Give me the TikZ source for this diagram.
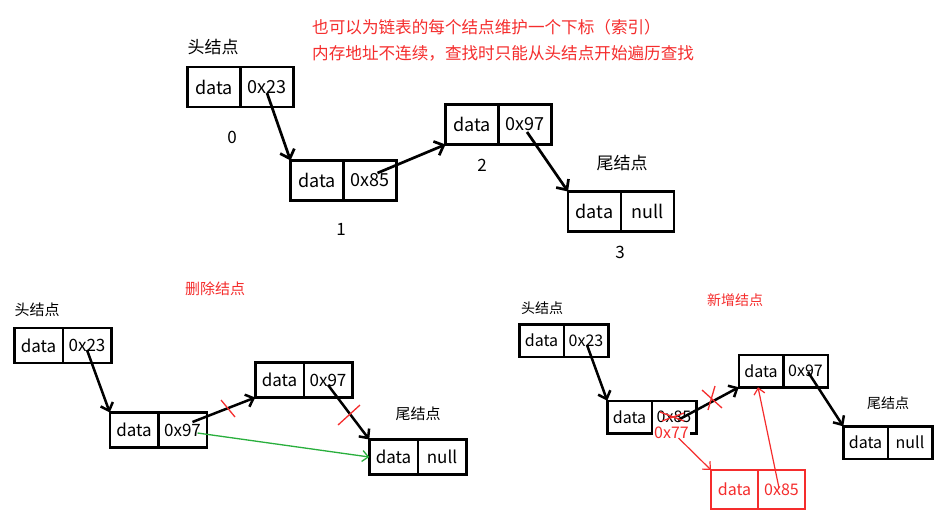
\documentclass[tikz,border=0pt]{standalone}
\usepackage{fontspec}
\setmainfont{Noto Sans CJK SC}
\usetikzlibrary{arrows.meta,calc}
\definecolor{myred}{RGB}{245,45,45}
\definecolor{mygreen}{RGB}{40,175,60}
\tikzset{
  cellbase/.style={draw, outer sep=0pt, inner sep=0pt, anchor=center},
  tcell/.style={cellbase, line width=2.8pt, minimum width=53pt, minimum height=40pt, font=\fontsize{18}{20}\selectfont},
  lcell/.style={cellbase, line width=2.5pt, minimum width=48.5pt, minimum height=35pt, font=\fontsize{17}{19}\selectfont},
  rcell/.style={cellbase, line width=2.5pt, minimum width=44.5pt, minimum height=32.5pt, font=\fontsize{16}{18}\selectfont},
  newcell/.style={cellbase, draw=myred, text=myred, line width=1.3pt, minimum width=47pt, minimum height=39pt, font=\fontsize{16}{18}\selectfont},
  lbl/.style={font=\fontsize{16}{18}\selectfont, inner sep=0pt},
  smalllbl/.style={font=\fontsize{15}{17}\selectfont, inner sep=0pt},
  redlbl/.style={font=\fontsize{15}{17}\selectfont, inner sep=0pt, text=myred},
  idx/.style={font=\fontsize{17}{19}\selectfont, inner sep=0pt},
  link/.style={line width=2.7pt, -{Straight Barb[length=8pt,width=15pt,line width=2.7pt]}},
  slink/.style={line width=2.5pt, -{Straight Barb[length=7pt,width=13pt,line width=2.5pt]}},
  redlink/.style={draw=myred, line width=1.2pt, -{Straight Barb[length=6pt,width=11pt,line width=1.2pt]}},
  greenlink/.style={draw=mygreen, line width=1.3pt, -{Straight Barb[length=6pt,width=11pt,line width=1.3pt]}},
  cross/.style={draw=myred, line width=1.3pt}
}
\begin{document}
\begin{tikzpicture}[x=1pt,y=-1pt]
\useasboundingbox[fill=white] (0,0) rectangle (949,528);

% ---------------- top ----------------
\node[anchor=west, inner sep=0pt, text=myred, font=\fontsize{16.6}{19}\selectfont] (note1) at (312,27) {也可以为链表的每个结点维护一个下标（索引）};
\node[anchor=west, inner sep=0pt, text=myred, font=\fontsize{16.6}{19}\selectfont] (note2) at (312,53) {内存地址不连续，查找时只能从头结点开始遍历查找};

\node[lbl, font=\fontsize{17}{19}\selectfont] (thead) at (213,47) {头结点};
\node[lbl, font=\fontsize{17}{19}\selectfont] (ttail) at (622,163) {尾结点};

\node[tcell] (t0d) at (214,87) {data};
\node[tcell, anchor=west] (t0p) at (t0d.east) {0x23};
\node[tcell] (t1d) at (317,180.5) {data};
\node[tcell, anchor=west] (t1p) at (t1d.east) {0x85};
\node[tcell] (t2d) at (472,124.5) {data};
\node[tcell, anchor=west] (t2p) at (t2d.east) {0x97};
\node[tcell] (t3d) at (594.5,211.5) {data};
\node[tcell, anchor=west] (t3p) at (t3d.east) {null};

\node[idx] (i0) at (232,137) {0};
\node[idx] (i1) at (341,229) {1};
\node[idx] (i2) at (482,165) {2};
\node[idx] (i3) at (620,252) {3};

\draw[link] ($(t0p.center)+(0,6)$) -- (t1d.north west);
\draw[link] ($(t1p.center)+(7.5,-7.5)$) -- (t2d.south west);
\draw[link] ($(t2p.center)+(2,7.5)$) -- (t3d.north west);

% ---------------- bottom left: delete ----------------
\node[redlbl] (deltitle) at (215,289) {删除结点};
\node[smalllbl] (lhead) at (37,310) {头结点};
\node[smalllbl] (ltail) at (418,414) {尾结点};

\node[lcell] (l0d) at (38.5,345.5) {data};
\node[lcell, anchor=west] (l0p) at (l0d.east) {0x23};
\node[lcell] (l1d) at (134,430) {\raisebox{1pt}{data}};
\node[lcell, anchor=west] (l1p) at (l1d.east) {\raisebox{-3pt}{0x97}};
\node[lcell] (l2d) at (279.5,380) {data};
\node[lcell, anchor=west] (l2p) at (l2d.east) {0x97};
\node[lcell] (l3d) at (393.5,457) {data};
\node[lcell, anchor=west] (l3p) at (l3d.east) {null};

\draw[slink] ($(l0p.center)+(0,4.5)$) -- (l1d.north west);
\draw[slink] ($(l1p.center)+(10,-8)$) -- (l2d.south west);
\draw[slink] ($(l2p.center)+(0,5)$) -- (l3d.north west);
\draw[greenlink] ($(l1p.center)+(15,3)$) -- (l3d.west);

\coordinate (lx1a) at (221,400);
\coordinate (lx1b) at (235,417);
\coordinate (lx2a) at (338,425);
\coordinate (lx2b) at (360,405);
\draw[cross] (lx1a) -- (lx1b);
\draw[cross] (lx2a) -- (lx2b);

% ---------------- bottom right: insert ----------------
\node[redlbl, font=\fontsize{14}{16}\selectfont] (addtitle) at (735,300) {新增结点};
\node[smalllbl, font=\fontsize{14}{16}\selectfont] (rhead) at (542,308) {头结点};
\node[smalllbl, font=\fontsize{14}{16}\selectfont] (rtail) at (888,403) {尾结点};

\node[rcell] (r0d) at (541.5,340.5) {data};
\node[rcell, anchor=west] (r0p) at (r0d.east) {0x23};
\node[rcell] (r1d) at (629.5,417) {data};
\node[rcell, anchor=west] (r1p) at (r1d.east) {0x85};
\node[rcell] (r2d) at (761,371) {data};
\node[rcell, anchor=west] (r2p) at (r2d.east) {0x97};
\node[rcell] (r3d) at (865.5,442.5) {data};
\node[rcell, anchor=west] (r3p) at (r3d.east) {null};

\node[newcell] (nd) at (734.5,489.5) {data};
\node[newcell, anchor=west] (np) at (nd.east) {0x85};

\node[fill=white, inner sep=1pt, text=myred, font=\fontsize{16}{18}\selectfont] (n77) at (671.5,433) {0x77};

\draw[slink] ($(r0p.center)+(1,4.5)$) -- (r1d.north west);
\draw[slink] ($(r1p.center)+(4,3)$) -- (r2d.south west);
\draw[slink] ($(r2p.center)+(2.5,1)$) -- (r3d.north west);
\draw[redlink] ($(n77.center)+(7,5)$) -- (nd.north west);
\draw[redlink] ($(np.center)+(-2.5,-1.5)$) -- ($(r2d.south)+(-3,0)$);

\coordinate (rxa) at (702,390);
\coordinate (rxb) at (722,408);
\coordinate (rxc) at (708,410);
\coordinate (rxd) at (715,386);
\draw[cross] (rxa) -- (rxb);
\draw[cross] (rxc) -- (rxd);

\coordinate (rsa) at (660,412);
\coordinate (rsb) at (684,421);
\coordinate (rsc) at (662,421);
\coordinate (rsd) at (684,413);
\draw[cross] (rsa) -- (rsb);
\draw[cross] (rsc) -- (rsd);
\end{tikzpicture}
\end{document}
